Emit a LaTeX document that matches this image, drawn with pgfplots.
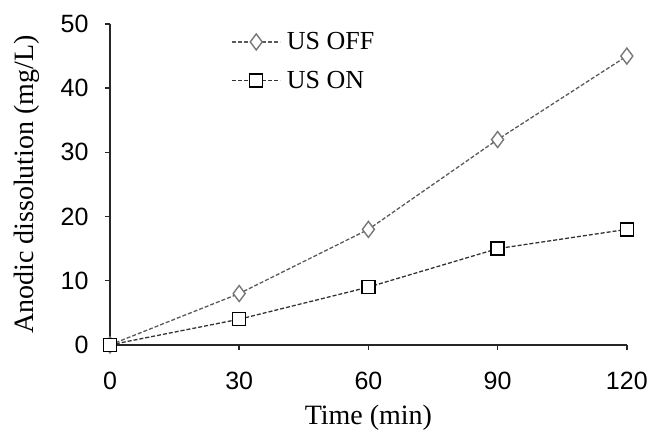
\documentclass[border=0pt]{standalone}
\usepackage{fontspec}
\setmainfont{Liberation Serif}
\newfontfamily\arialf{Liberation Sans}
\usepackage{pgfplots}
\pgfplotsset{compat=1.18}
\definecolor{dgray}{RGB}{90,90,90}
\definecolor{mgray}{RGB}{120,120,120}
\begin{document}
\begin{tikzpicture}
\begin{axis}[
  name=ax,
  scale only axis,
  width=517bp, height=321bp,
  xmin=0, xmax=120, ymin=0, ymax=50,
  xtick={0,30,60,90,120},
  ytick={0,10,20,30,40,50},
  axis lines=left,
  axis line style={-, line width=1.4bp, black!85},
  tick style={line width=1.4bp, black!85},
  tick align=outside,
  major tick length=5bp,
  clip=false,
  /pgf/number format/assume math mode=true,
  ticklabel style={font=\arialf\fontsize{25bp}{29bp}\selectfont},
  yticklabel style={xshift=-13bp},
  xticklabel style={yshift=-19bp},
  xlabel={Time (min)},
  ylabel={Anodic dissolution (mg/L)},
  label style={font=\fontsize{28bp}{32bp}\selectfont},
  xlabel style={at={(axis description cs:0.5,-0.227)}, anchor=center},
  ylabel style={at={(axis description cs:-0.16,0.5)}, anchor=center},
  legend style={draw=none, fill=none, at={(axis description cs:0.235,0.98)}, anchor=north west,
    font=\fontsize{26bp}{30bp}\selectfont, row sep=16bp, inner sep=0pt,
    nodes={inner xsep=6bp}},
  legend cell align=left,
  legend image code/.code={\draw[mark repeat=2,mark phase=2,#1] plot coordinates {(0bp,0bp)(24bp,0bp)(48bp,0bp)};},
]
\addplot[dgray, line width=1.3bp, dash pattern=on 4bp off 2bp,
  mark=diamond*, mark size=8bp, mark options={solid, draw=mgray, fill=white, line width=1.4bp}]
  coordinates {(0,0) (30,8) (60,18) (90,32) (120,45)};
\addlegendentry{US OFF}
\addplot[black!80, line width=1.3bp, dash pattern=on 4bp off 2bp,
  mark=square*, mark size=6.5bp, mark options={solid, draw=black, fill=white, line width=1.4bp}]
  coordinates {(0,0) (30,4) (60,9) (90,15) (120,18)};
\addlegendentry{US ON}
\end{axis}
\path[use as bounding box] ([xshift=-110bp,yshift=-87bp]ax.south west) rectangle ([xshift=24bp,yshift=24bp]ax.north east);
\end{tikzpicture}
\end{document}
